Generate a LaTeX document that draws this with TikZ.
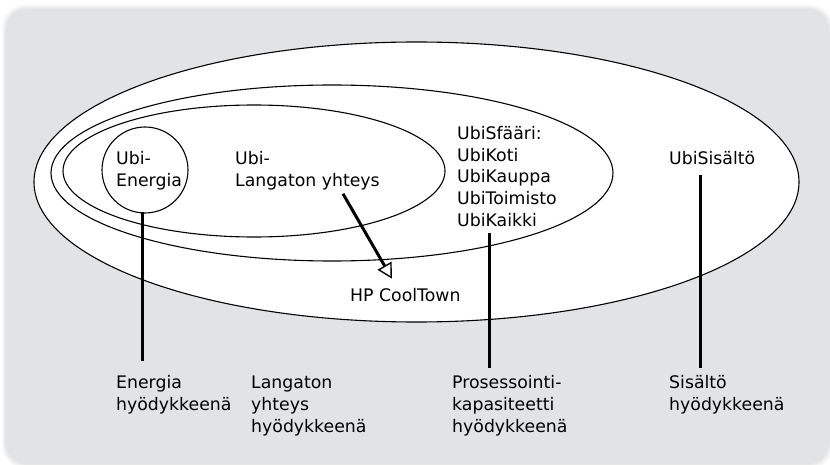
\documentclass[tikz,border=0pt]{standalone}
\usepackage{fontspec}
\setmainfont{DejaVu Sans}
\usetikzlibrary{arrows.meta,calc,shapes.geometric}
\definecolor{panel}{RGB}{226,227,229}
\begin{document}
\begin{tikzpicture}[x=1pt,y=-1pt,
  ring/.style={draw=black,fill=white,line width=1.1pt},
  % multi-line texts sit on the baseline of their last line
  lbl/.style={anchor=base west,inner sep=0pt,align=left,
              font=\fontsize{17.3}{22}\selectfont},
  stem/.style={line width=3pt},
  pointer/.style={line width=3pt,-{Triangle[open,length=15pt,width=16pt,line width=1.4pt]}}]
\useasboundingbox (0,0) rectangle (830,465);
% soft shadow and grey panel
\foreach \g in {5,4,3,2,1}
  \fill[black,opacity=0.025,rounded corners=22pt]
    (7-\g,10-\g) rectangle (828+\g,463+\g);
\fill[panel,rounded corners=18pt] (7,10) rectangle (828,463);

% nested rings
\node[ring,ellipse,minimum width=765pt,minimum height=280pt,inner sep=0pt] (outer) at (416.5,182) {};
\node[ring,ellipse,minimum width=562pt,minimum height=176pt,inner sep=0pt] (sphere) at (332,173) {};
\node[ring,ellipse,minimum width=382pt,minimum height=132pt,inner sep=0pt] (wireless) at (254,171) {};
\node[ring,circle,minimum size=86pt,inner sep=0pt] (energy) at (145,170) {};

% texts inside the rings
\node[lbl] (ubien) at (116,187) {Ubi-\\Energia};
\node[lbl] (ubilang) at (235,187) {Ubi-\\Langaton yhteys};
\node[lbl] (sfaari) at (457,227) {UbiSfääri:\\UbiKoti\\UbiKauppa\\UbiToimisto\\UbiKaikki};
\node[lbl] (sisalto) at (669,165) {UbiSisältö};
\node[lbl] (cool) at (350,301) {HP CoolTown};

% labels below
\node[lbl] (enlab) at (116,410) {Energia\\hyödykkeenä};
\node[lbl] (langlab) at (251,432) {Langaton\\yhteys\\hyödykkeenä};
\node[lbl] (proslab) at (452,432) {Prosessointi-\\kapasiteetti\\hyödykkeenä};
\node[lbl] (sislab) at (669,410) {Sisältö\\hyödykkeenä};

% connectors
\coordinate (kx) at (489,0);
\coordinate (sx) at (700,0);
\draw[stem] ($(energy.south)+(-3,-2)$) -- ($(energy.south |- enlab.north)+(-3,-14)$);
\draw[stem] ($(sfaari.south -| kx)+(0,6)$) -- ($(proslab.north -| kx)+(0,-7)$);
\draw[stem] ($(sisalto.south -| sx)+(0,10)$) -- ($(sislab.north -| sx)+(0,-7)$);
\draw[pointer] ($(ubilang.south west)+(108,3)$) -- ($(cool.north west)+(42,-9)$);
\end{tikzpicture}
\end{document}
